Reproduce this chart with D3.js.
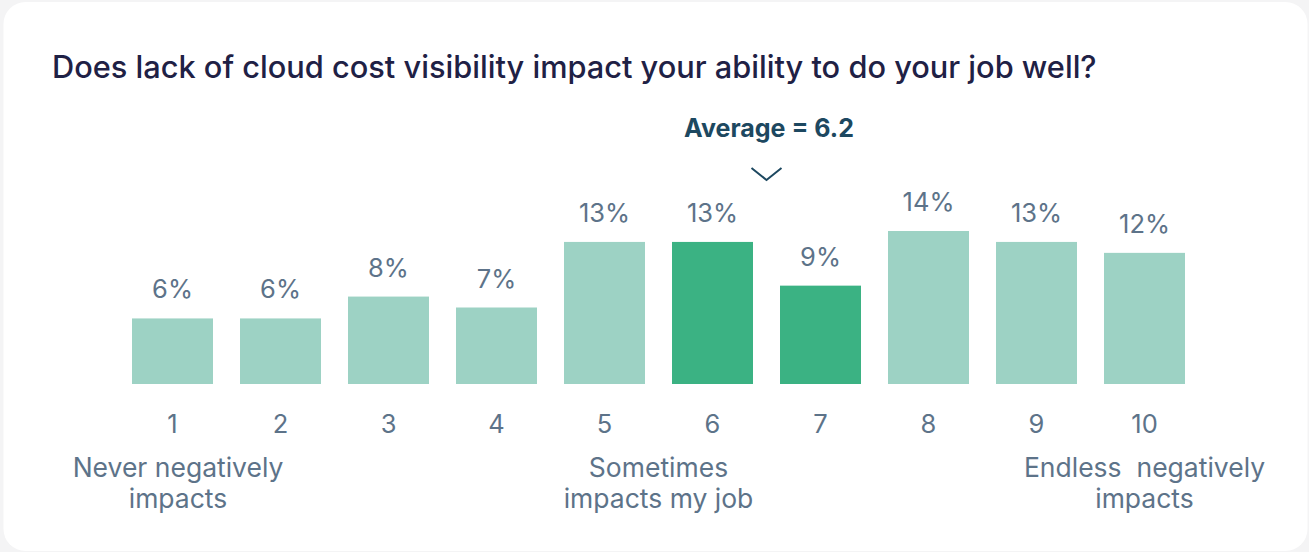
<!DOCTYPE html>
<html>
<head>
<meta charset="utf-8">
<script src="https://cdn.jsdelivr.net/npm/d3@7"></script>
<style>
  html, body { margin: 0; padding: 0; background: #f4f4f5; }
  svg { display: block; }
  text { font-family: Inter, "Noto Sans", sans-serif; }
</style>
</head>
<body>
<svg id="chart" width="1309" height="552"></svg>
<script>
const title = "Does lack of cloud cost visibility impact your ability to do your job well?";
const categories = ["1", "2", "3", "4", "5", "6", "7", "8", "9", "10"];
const values = [6, 6, 8, 7, 13, 13, 9, 14, 13, 12];
const highlighted = ["6", "7"];
const averageLabel = "Average = 6.2";
const scaleLabels = [
  { anchor: "1", lines: ["Never negatively", "impacts"] },
  { anchor: "5.5", lines: ["Sometimes", "impacts my job"] },
  { anchor: "10", lines: ["Endless  negatively", "impacts"] }
];

const svg = d3.select("#chart");

// card
svg.append("rect")
  .attr("x", 3.5).attr("y", 2).attr("width", 1304).attr("height", 549)
  .attr("rx", 22).attr("ry", 22)
  .attr("fill", "#ffffff");

function fitWidth(sel, base, target) {
  const len = sel.node().getComputedTextLength();
  sel.attr("font-size", base * target / len);
}

// title
const t = svg.append("text")
  .attr("x", 52).attr("y", 78)
  .attr("fill", "#1f2145")
  .attr("font-size", 26)
  .attr("font-weight", 500)
  .text(title);
fitWidth(t, 26, 1045);

const x = d3.scaleBand().domain(categories)
  .range([118.5, 1198.5]).paddingInner(0.25).paddingOuter(0.125);
const y = d3.scaleLinear().domain([0, 14]).range([384, 231]);

const lightColor = "#9dd2c4";
const darkColor = "#3bb283";
const slate = "#5d7389";
const labelSize = 25.5;
const tickSize = 25.5;
const noteSize = 26.5;

const data = categories.map((c, i) => ({ c, v: values[i] }));

svg.append("g").selectAll("rect").data(data).join("rect")
  .attr("x", d => x(d.c))
  .attr("y", d => y(d.v))
  .attr("width", x.bandwidth())
  .attr("height", d => y(0) - y(d.v))
  .attr("fill", d => highlighted.includes(d.c) ? darkColor : lightColor);

// value labels
svg.append("g").selectAll("text").data(data).join("text")
  .attr("x", d => x(d.c) + x.bandwidth() / 2)
  .attr("y", d => y(d.v) - 20)
  .attr("text-anchor", "middle")
  .attr("fill", slate)
  .attr("font-size", labelSize)
  .text(d => d.v + "%");

// x axis tick labels
const axis = d3.axisBottom(x).tickSize(0).tickPadding(0);
const ag = svg.append("g").attr("transform", "translate(0,433)").call(axis);
ag.select(".domain").remove();
ag.selectAll("text")
  .attr("dy", 0).attr("y", 0)
  .attr("fill", slate)
  .attr("font-size", tickSize)
  .attr("font-family", "Inter, 'Noto Sans', sans-serif");

// scale labels
const centerOf = a => {
  const v = parseFloat(a);
  const lo = Math.floor(v), hi = Math.ceil(v);
  const cl = x(String(lo)) + x.bandwidth() / 2;
  const ch = x(String(hi)) + x.bandwidth() / 2;
  return cl + (ch - cl) * (v - lo);
};
const offsets = { "1": 5.5, "5.5": 0, "10": 0 };
scaleLabels.forEach(s => {
  const tx = svg.append("text")
    .attr("text-anchor", "middle")
    .attr("fill", slate)
    .attr("font-size", noteSize)
    .style("white-space", "pre");
  s.lines.forEach((ln, i) => {
    tx.append("tspan")
      .attr("x", centerOf(s.anchor) + offsets[s.anchor])
      .attr("y", 477 + i * 31)
      .text(ln);
  });
});

// average marker (between highlighted bars)
const avgX = (x(highlighted[0]) + x(highlighted[1]) + x.bandwidth()) / 2;
const at = svg.append("text")
  .attr("x", avgX + 2.5)
  .attr("y", 137)
  .attr("text-anchor", "middle")
  .attr("fill", "#1d4860")
  .attr("font-size", 22)
  .attr("font-weight", 700)
  .text(averageLabel);
fitWidth(at, 22, 170);
svg.append("path")
  .attr("d", d3.line()([[avgX - 15, 168], [avgX, 180], [avgX + 15, 168]]))
  .attr("fill", "none")
  .attr("stroke", "#1d4860")
  .attr("stroke-width", 2);
</script>
</body>
</html>
